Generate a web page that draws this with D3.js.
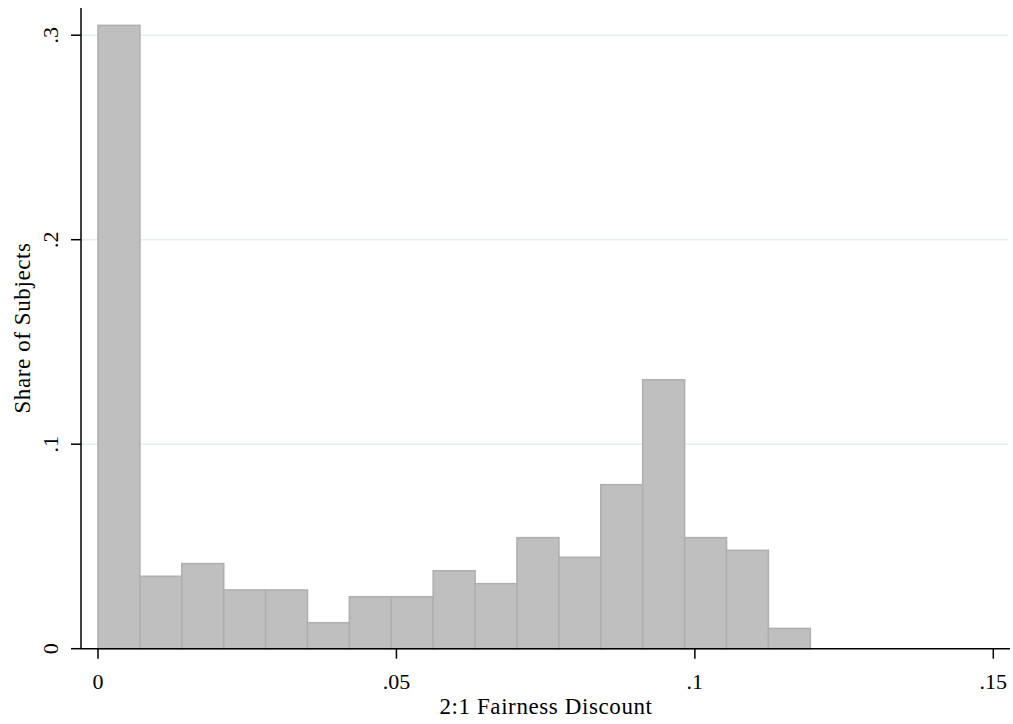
<!DOCTYPE html>
<html>
<head>
<meta charset="utf-8">
<script src="https://cdn.jsdelivr.net/npm/d3@7"></script>
<style>
  body { margin: 0; background: #fff; }
  text { font-family: "Liberation Serif", "DejaVu Serif", serif; fill: #000; }
</style>
</head>
<body>
<svg id="chart" width="1013" height="724"></svg>
<script>
// histogram of 2:1 fairness discount
var BIN_WIDTH = 0.00702;
var shares = [0.3048, 0.0354, 0.0416, 0.0287, 0.0287, 0.0127, 0.0254, 0.0254, 0.0381,
              0.0318, 0.0543, 0.0447, 0.0802, 0.1315, 0.0543, 0.0481, 0.0099];
var xTicks = [0, 0.05, 0.1, 0.15];
var xTickLabels = ["0", ".05", ".1", ".15"];
var yTicks = [0, 0.1, 0.2, 0.3];
var yTickLabels = ["0", ".1", ".2", ".3"];

var bins = shares.map(function(v, i) {
	return {x0: i * BIN_WIDTH, x1: (i + 1) * BIN_WIDTH, v: v};
});

var svg = d3.select("#chart");

var x = d3.scaleLinear().domain([0, 0.15]).range([98, 993.3]);
var y = d3.scaleLinear().domain([0, 0.3]).range([648.7, 35.2]);

var AXIS_X = 81;
var RIGHT = 1010;

//gridlines
svg.append("g")
	.selectAll("line")
	.data(yTicks.slice(1))
	.enter()
	.append("line")
	.attr("x1", AXIS_X)
	.attr("x2", 1008)
	.attr("y1", function(d) { return y(d); })
	.attr("y2", function(d) { return y(d); })
	.attr("stroke", "#e6eff0")
	.attr("stroke-width", 1.5);

//bars
svg.append("g")
	.selectAll("rect")
	.data(bins)
	.enter()
	.append("rect")
	.attr("x", function(d) { return x(d.x0); })
	.attr("y", function(d) { return y(d.v); })
	.attr("width", function(d) { return x(d.x1) - x(d.x0); })
	.attr("height", function(d) { return y(0) - y(d.v); })
	.attr("fill", "#bfbfbf")
	.attr("stroke", "#b0b0b0")
	.attr("stroke-width", 1.6);

//y axis
var yAxis = svg.append("g").attr("transform", "translate(" + AXIS_X + ",0)");
yAxis.append("line")
	.attr("x1", 0).attr("x2", 0)
	.attr("y1", 8).attr("y2", y(0))
	.attr("stroke", "#000").attr("stroke-width", 1.5);
yAxis.selectAll(".ytick")
	.data(yTicks)
	.enter()
	.append("line")
	.attr("x1", -10).attr("x2", 0)
	.attr("y1", function(d) { return y(d); })
	.attr("y2", function(d) { return y(d); })
	.attr("stroke", "#000").attr("stroke-width", 1.5);
yAxis.selectAll(".ylab")
	.data(yTicks)
	.enter()
	.append("text")
	.attr("transform", function(d) { return "translate(-23," + y(d) + ") rotate(-90)"; })
	.attr("text-anchor", "middle")
	.style("font-size", "22px")
	.text(function(d, i) { return yTickLabels[i]; });

//x axis
var xAxis = svg.append("g").attr("transform", "translate(0," + y(0) + ")");
xAxis.append("line")
	.attr("x1", AXIS_X).attr("x2", RIGHT)
	.attr("y1", 0).attr("y2", 0)
	.attr("stroke", "#000").attr("stroke-width", 1.5);
xAxis.selectAll(".xtick")
	.data(xTicks)
	.enter()
	.append("line")
	.attr("x1", function(d) { return x(d); })
	.attr("x2", function(d) { return x(d); })
	.attr("y1", 0).attr("y2", 10)
	.attr("stroke", "#000").attr("stroke-width", 1.5);
xAxis.selectAll(".xlab")
	.data(xTicks)
	.enter()
	.append("text")
	.attr("x", function(d) { return x(d); })
	.attr("y", 40)
	.attr("text-anchor", "middle")
	.style("font-size", "22px")
	.text(function(d, i) { return xTickLabels[i]; });

//axis titles
svg.append("text")
	.attr("x", 546)
	.attr("y", 714)
	.attr("text-anchor", "middle")
	.style("font-size", "23px")
	.style("letter-spacing", "0.6px")
	.text("2:1 Fairness Discount");

svg.append("text")
	.attr("transform", "translate(30,328) rotate(-90)")
	.attr("text-anchor", "middle")
	.style("font-size", "23px")
	.style("letter-spacing", "0.6px")
	.text("Share of Subjects");
</script>
</body>
</html>
